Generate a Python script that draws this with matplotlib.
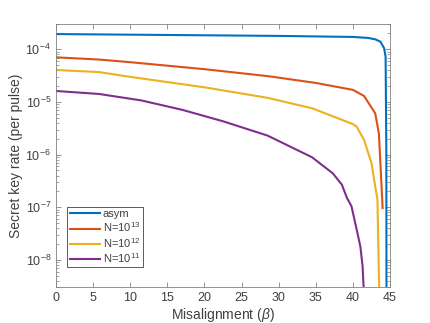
import matplotlib.pyplot as plt
from matplotlib.ticker import LogLocator, NullFormatter

plt.rcParams["font.family"] = ["Liberation Sans", "DejaVu Sans"]
plt.rcParams["mathtext.fontset"] = "custom"
plt.rcParams["mathtext.rm"] = "Liberation Sans"
plt.rcParams["mathtext.it"] = "Liberation Sans:italic"

# misalignment angle (deg) and secret key rate per pulse
asym_x = [0, 10, 20, 30, 40, 42, 43, 43.7, 44.2, 44.4, 44.5, 44.52]
asym_y = [1.95e-4, 1.9e-4, 1.85e-4, 1.8e-4, 1.72e-4, 1.65e-4, 1.55e-4,
          1.4e-4, 1.05e-4, 7.2e-5, 1e-6, 1e-9]

n13_x = [0, 5.8, 10, 20, 28.5, 30, 35, 40, 41.5, 43, 43.5, 44]
n13_y = [7.05e-5, 6.4e-5, 5.7e-5, 4.2e-5, 3.1e-5, 2.9e-5, 2.3e-5, 1.7e-5,
         1.3e-5, 6.1e-6, 2.5e-6, 9.7e-8]

n12_x = [0, 5.8, 10, 20, 28.5, 34.5, 40, 40.5, 41.5, 42.5, 43, 43.3, 43.6]
n12_y = [4.05e-5, 3.7e-5, 3.0e-5, 1.9e-5, 1.2e-5, 7.6e-6, 3.8e-6, 3.4e-6,
         1.9e-6, 6.9e-7, 2.5e-7, 1.4e-7, 1e-9]

n11_x = [0, 5.8, 11.5, 17, 22.5, 28.5, 34.5, 37.3, 38.5, 39.2, 39.8, 40.5,
         41, 41.3, 41.6]
n11_y = [1.62e-5, 1.42e-5, 1.07e-5, 7.1e-6, 4.3e-6, 2.3e-6, 8.9e-7, 4.4e-7,
         2.7e-7, 1.5e-7, 1.05e-7, 3.8e-8, 1.8e-8, 7.6e-9, 1e-9]

labels = ["asym", "N=10$^{13}$", "N=10$^{12}$", "N=10$^{11}$"]
colors = ["#0072BD", "#D95319", "#EDB120", "#7E2F8E"]


def main() -> None:
    fig = plt.figure(figsize=(4.31, 3.23), dpi=100)
    ax = fig.add_axes([0.13, 0.11, 0.775, 0.815])

    series = [(asym_x, asym_y), (n13_x, n13_y), (n12_x, n12_y), (n11_x, n11_y)]
    for (x, y), lab, c in zip(series, labels, colors):
        ax.plot(x, y, color=c, lw=1.5, label=lab)

    ax.set_yscale("log")
    ax.set_xlim(0, 45)
    ax.set_ylim(3e-9, 3e-4)
    ax.set_xticks(range(0, 50, 5))
    ax.yaxis.set_major_locator(LogLocator(base=10, numticks=10))
    ax.yaxis.set_minor_locator(LogLocator(base=10, subs=range(2, 10), numticks=20))
    ax.yaxis.set_minor_formatter(NullFormatter())

    gray = "#404040"
    for s in ax.spines.values():
        s.set_color("#808080")
        s.set_linewidth(0.6)
    ax.tick_params(which="both", direction="in", top=True, right=True,
                   colors="#808080", labelcolor=gray, labelsize=9)
    ax.tick_params(which="major", length=3.5, width=0.6)
    ax.tick_params(which="minor", length=2, width=0.5)

    ax.set_xlabel(r"Misalignment ($\beta$)", fontsize=10, color=gray, labelpad=1)
    ax.set_ylabel("Secret key rate (per pulse)", fontsize=10, color=gray, labelpad=2)

    leg = ax.legend(loc="lower left", bbox_to_anchor=(0.033, 0.076), fontsize=8,
                    handlelength=2.7, fancybox=False, framealpha=1,
                    edgecolor="#404040", borderpad=0.25, labelspacing=0.12,
                    handletextpad=0.25, borderaxespad=0)
    leg.get_frame().set_linewidth(0.6)
    for t in leg.get_texts():
        t.set_color(gray)

    fig.savefig("out.png", dpi=100)
    plt.close(fig)


if __name__ == "__main__":
    main()
